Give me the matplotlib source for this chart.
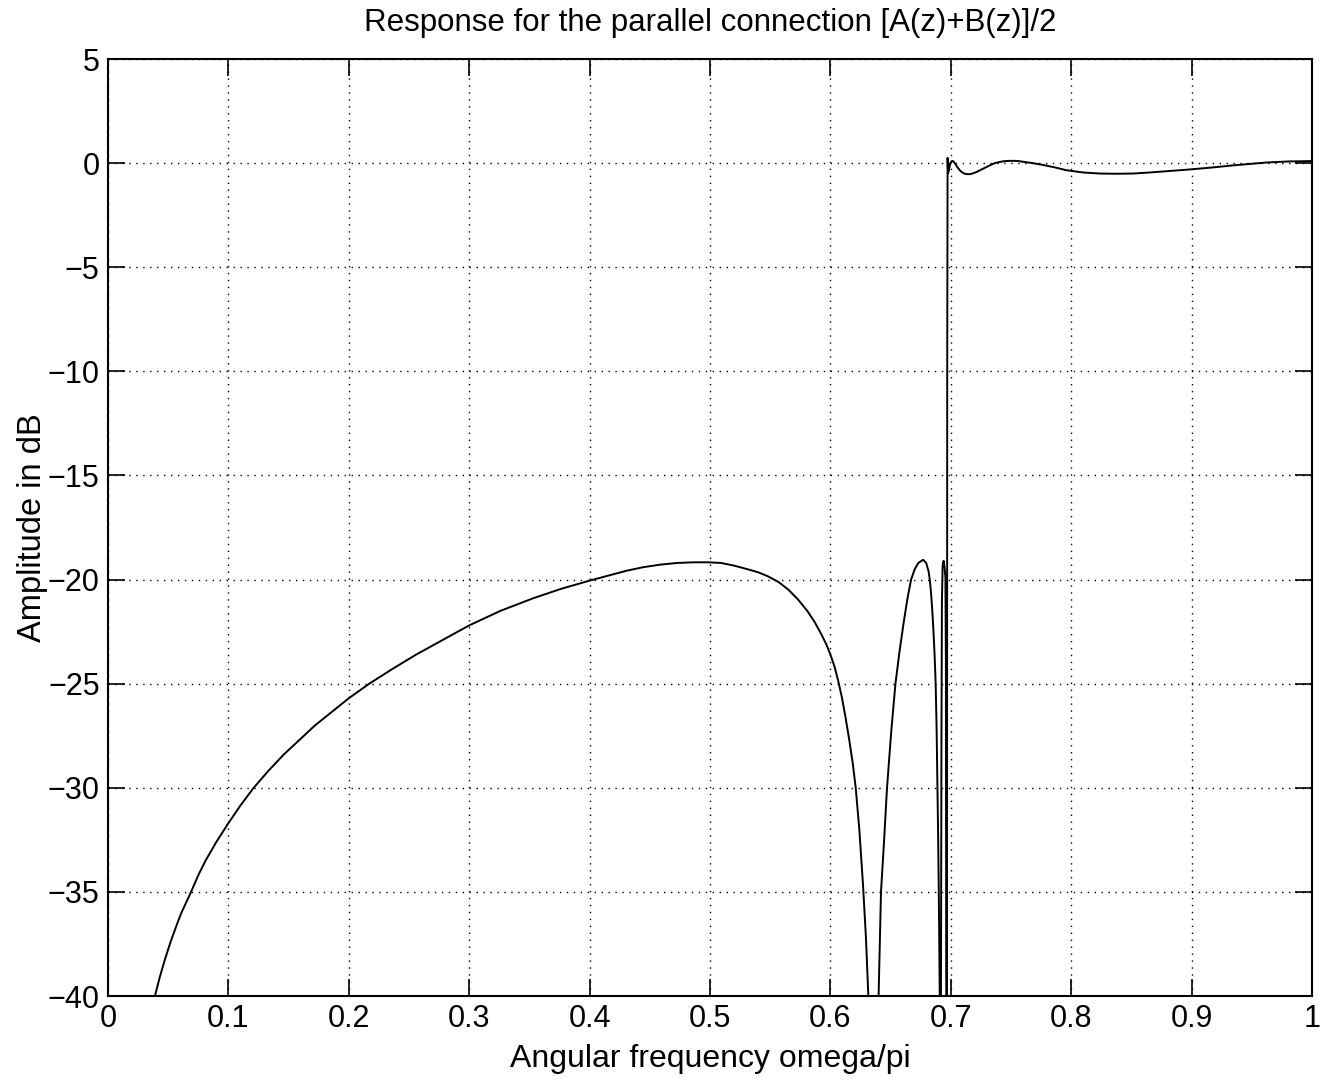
import matplotlib
matplotlib.use('Agg')
import matplotlib.pyplot as plt

# Response (omega/pi, dB); values below -40 fall in the notches
freq = [0.035, 0.039, 0.043, 0.047, 0.052, 0.057, 0.061, 0.065, 0.069, 0.075, 0.081,
        0.090, 0.100, 0.110, 0.121, 0.133, 0.146, 0.159, 0.172, 0.186, 0.200, 0.217,
        0.236, 0.256, 0.278, 0.300, 0.326, 0.353, 0.376, 0.400, 0.416, 0.431, 0.445,
        0.459, 0.473, 0.487, 0.498, 0.509, 0.520, 0.531, 0.540, 0.548, 0.557, 0.565,
        0.573, 0.581, 0.587, 0.5925, 0.5965, 0.600, 0.6035, 0.6064, 0.6095, 0.6125,
        0.6155, 0.6185, 0.621, 0.624, 0.627, 0.6295, 0.6315, 0.6355,
        0.640, 0.642, 0.6445, 0.647, 0.6505, 0.654, 0.6575, 0.661, 0.664, 0.667,
        0.670, 0.673, 0.677, 0.6795, 0.6815, 0.6825, 0.6835, 0.6845, 0.6855, 0.6865,
        0.6874, 0.6882, 0.6889, 0.6895, 0.690, 0.6908, 0.6913,
        0.6918, 0.6922, 0.6926, 0.6932, 0.6940, 0.6948, 0.6955, 0.6959, 0.6962,
        0.6965, 0.6968, 0.6970, 0.6973, 0.6977, 0.6984, 0.6992, 0.7002, 0.7012, 0.7022,
        0.7035, 0.7055, 0.7080, 0.7110, 0.7135, 0.7157, 0.7185, 0.7215, 0.7250, 0.7290,
        0.7330, 0.7365, 0.7400, 0.7440, 0.7480, 0.7520, 0.7560, 0.7610, 0.7680, 0.7760,
        0.7860, 0.7960, 0.8100, 0.8240, 0.8380, 0.8510, 0.8650, 0.8790, 0.8970, 0.9150,
        0.9340, 0.9480, 0.9620, 0.9800, 1.0000]
amp_db = [-43.0, -40.0, -39.1, -38.3, -37.4, -36.6, -36.0, -35.5, -35.0, -34.2, -33.5,
          -32.6, -31.7, -30.85, -30.0, -29.2, -28.4, -27.7, -27.0, -26.35, -25.7, -25.0,
          -24.3, -23.6, -22.9, -22.2, -21.5, -20.9, -20.45, -20.05, -19.8, -19.57, -19.4,
          -19.28, -19.2, -19.17, -19.17, -19.2, -19.33, -19.5, -19.65, -19.84, -20.12, -20.48,
          -20.95, -21.52, -22.05, -22.63, -23.1, -23.6, -24.2, -24.85, -25.65, -26.6,
          -27.65, -28.8, -30.0, -32.0, -34.6, -37.2, -40.0, -60.0,
          -40.0, -35.0, -32.6, -30.0, -27.3, -25.0, -23.4, -22.0, -20.9, -20.0,
          -19.5, -19.2, -19.05, -19.2, -19.6, -20.0, -20.6, -21.4, -22.4, -23.6,
          -25.0, -27.2, -30.0, -32.5, -35.0, -40.0, -55.0,
          -40.0, -28.0, -21.0, -19.3, -19.1, -19.4, -19.9, -24.0, -40.0,
          -55.0, -40.0, -10.0, 0.25, -0.48, -0.35, -0.10, 0.06, 0.11, 0.08,
          -0.02, -0.20, -0.38, -0.50, -0.53, -0.53, -0.49, -0.42, -0.32, -0.20,
          -0.09, 0.0, 0.05, 0.09, 0.11, 0.11, 0.10, 0.06, 0.0, -0.08,
          -0.20, -0.34, -0.45, -0.50, -0.51, -0.50, -0.45, -0.39, -0.31, -0.22,
          -0.11, -0.04, 0.03, 0.08, 0.10]

x_ticks = [0, 0.1, 0.2, 0.3, 0.4, 0.5, 0.6, 0.7, 0.8, 0.9, 1]
x_tick_labels = ['0', '0.1', '0.2', '0.3', '0.4', '0.5', '0.6', '0.7', '0.8', '0.9', '1']
y_ticks = [-40, -35, -30, -25, -20, -15, -10, -5, 0, 5]
y_tick_labels = ['\u221240', '\u221235', '\u221230', '\u221225', '\u221220', '\u221215',
                 '\u221210', '\u22125', '0', '5']

plt.rcParams['font.family'] = ['Liberation Sans', 'DejaVu Sans']

fig = plt.figure(figsize=(13.28, 10.81), dpi=100)
ax = fig.add_axes([0.0813, 0.0786, 0.9067, 0.8668])

ax.plot(freq, amp_db, color='black', linewidth=1.4)

ax.set_xlim(0, 1)
ax.set_ylim(-40, 5)
ax.set_xticks(x_ticks)
ax.set_xticklabels(x_tick_labels)
ax.set_yticks(y_ticks)
ax.set_yticklabels(y_tick_labels)

ax.grid(True, color='black', linestyle=(0, (1, 4)), linewidth=1.0)
ax.tick_params(direction='in', length=12, width=1.2, labelsize=22,
               top=True, right=True, pad=6)
for side in ax.spines.values():
    side.set_linewidth(1.5)

ax.set_title('Response for the parallel connection [A(z)+B(z)]/2', fontsize=22.5, pad=20)
ax.set_xlabel('Angular frequency omega/pi', fontsize=23, labelpad=7)
ax.set_ylabel('Amplitude in dB', fontsize=23.5, labelpad=0)

fig.savefig('out.png', dpi=100)
